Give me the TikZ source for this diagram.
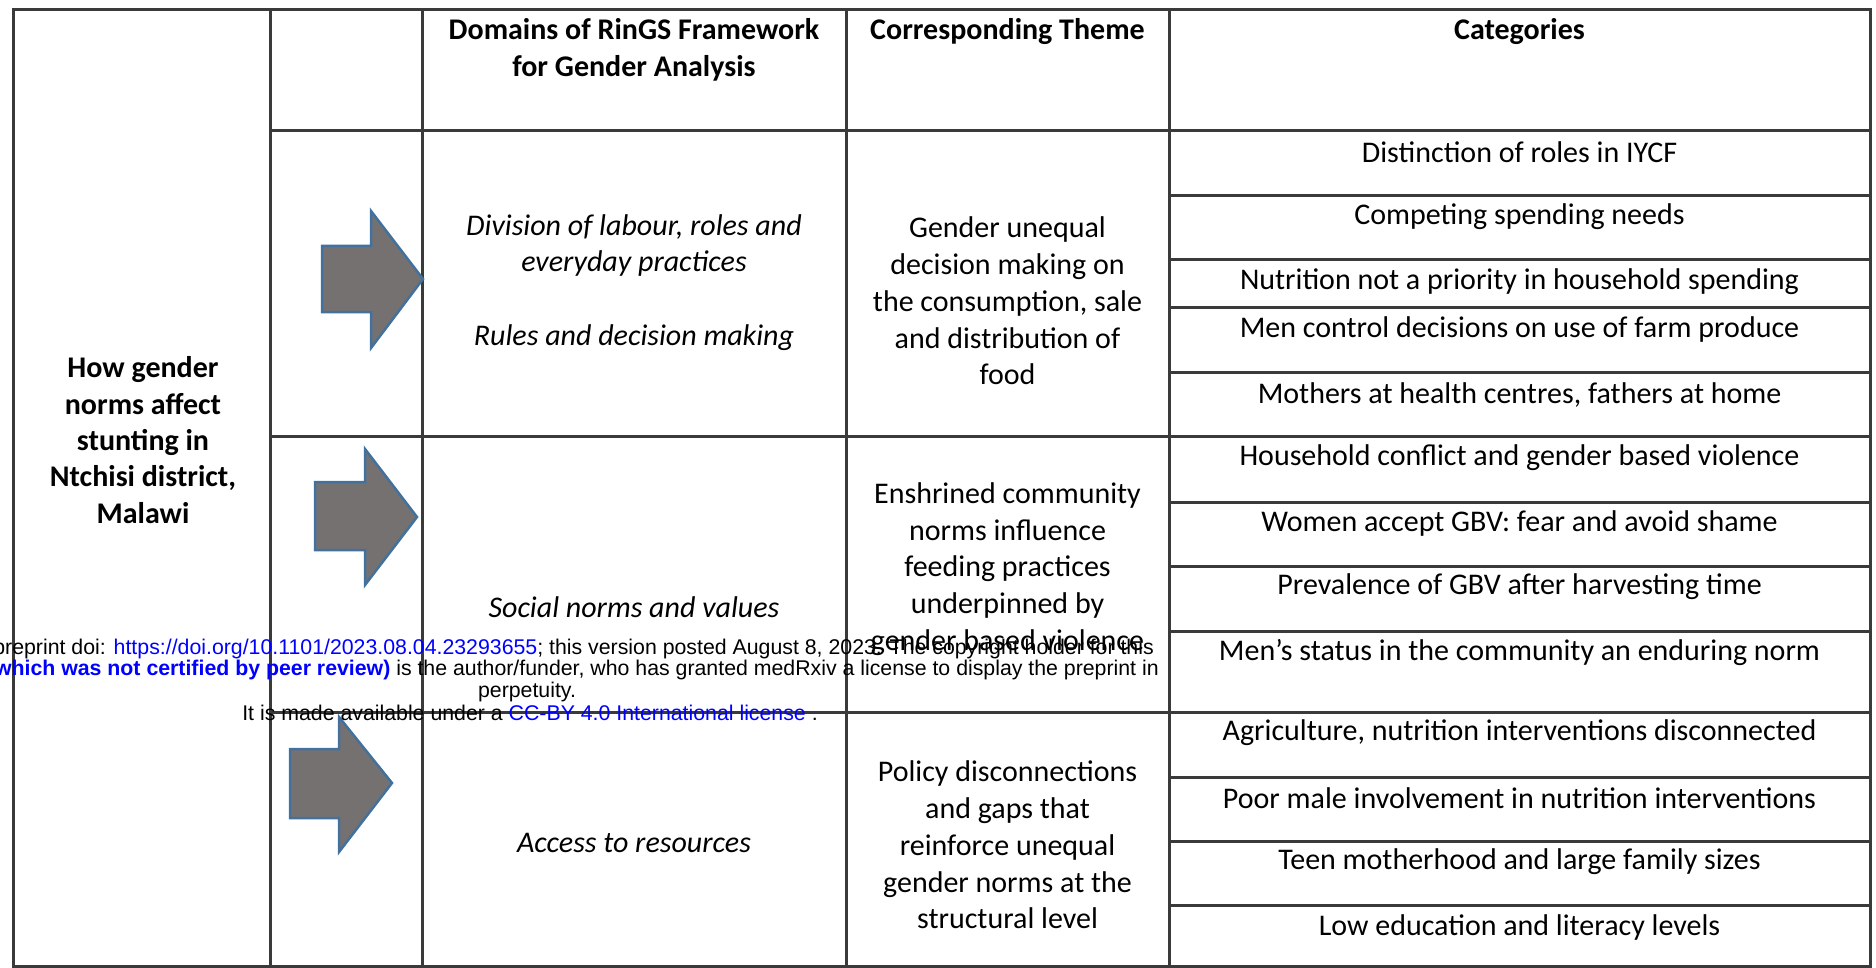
\documentclass[tikz,border=0pt]{standalone}
\usepackage{fontspec}
\setmainfont{Carlito}
\newfontfamily\stampfont{Liberation Sans}
\usepackage{tikz}
\usetikzlibrary{arrows.meta}

\definecolor{gridgray}{HTML}{3A3A3A}
\definecolor{arrowgray}{HTML}{767171}
\definecolor{arrowblue}{HTML}{41719C}
\definecolor{linkblue}{HTML}{0000FF}

\tikzset{
  gridline/.style={draw=gridgray, line width=3pt},
  celltext/.style={align=center, inner sep=0pt, font={\fontsize{30}{36.7}\selectfont}},
  headtext/.style={celltext, font={\fontsize{30}{36.7}\selectfont\bfseries}},
  domaintext/.style={celltext, font={\fontsize{30}{36.7}\selectfont\itshape}},
  goaltext/.style={celltext, font={\fontsize{30}{36.3}\selectfont\bfseries}},
  blockarrow/.style={fill=arrowgray, draw=arrowblue, line width=2.5pt, line join=miter},
  stamp/.style={inner sep=0pt, font={\stampfont\fontsize{21.3}{21.5}\selectfont}}
}

\begin{document}
\begin{tikzpicture}[x=1pt,y=-1pt]
      \clip (0,0) rectangle (1876,968);
      \fill[white] (0,0) rectangle (1876,968);
      % frame and columns
      \draw[gridline] (13,9.5) rectangle (1870,966);
      \draw[gridline] (270,9.5) -- (270,966);
      \draw[gridline] (422,9.5) -- (422,966);
      \draw[gridline] (846,9.5) -- (846,966);
      \draw[gridline] (1169,9.5) -- (1169,966);
      % rows
      \draw[gridline] (270,131) -- (1870,131);
      \draw[gridline] (270,436) -- (1870,436);
      \draw[gridline] (270,712) -- (1870,712);
      % category rows
      \draw[gridline] (1169,195.5) -- (1870,195.5);
      \draw[gridline] (1169,259.5) -- (1870,259.5);
      \draw[gridline] (1169,307.5) -- (1870,307.5);
      \draw[gridline] (1169,372) -- (1870,372);
      \draw[gridline] (1169,502) -- (1870,502);
      \draw[gridline] (1169,566) -- (1870,566);
      \draw[gridline] (1169,631) -- (1870,631);
      \draw[gridline] (1169,777) -- (1870,777);
      \draw[gridline] (1169,841) -- (1870,841);
      \draw[gridline] (1169,905) -- (1870,905);

      % arrows
      \filldraw[blockarrow] (322,246) -- (371,246) -- (371,211) -- (423,279) -- (371,348) -- (371,312) -- (322,312) -- cycle;
      \filldraw[blockarrow] (315,482) -- (365,482) -- (365,449) -- (417,517) -- (365,585) -- (365,550) -- (315,550) -- cycle;
      \filldraw[blockarrow] (290,749) -- (339,749) -- (339,717) -- (392,783) -- (339,852) -- (339,818) -- (290,818) -- cycle;

      \node[goaltext] (goal) at (143,440) {How gender\\norms affect\\stunting in\\Ntchisi district,\\Malawi};

      \node[headtext] (hdomain) at (634,50) {Domains of RinGS Framework\\for Gender Analysis};
      \node[headtext] (htheme) at (1007.5,31.7) {Corresponding Theme};
      \node[headtext] (hcat) at (1519.5,31.7) {Categories};

      \node[domaintext] (dom1) at (634,282.5) {Division of labour, roles and\\everyday practices\\[36.7pt]Rules and decision making};
      \node[domaintext] (dom2) at (634,607) {Social norms and values};
      \node[domaintext] (dom3) at (634,843) {Access to resources};

      \node[celltext] (theme1) at (1007.5,301) {Gender unequal\\decision making on\\the consumption, sale\\and distribution of\\food};
      \node[celltext] (theme2) at (1007.5,569) {Enshrined community\\norms influence\\feeding practices\\underpinned by\\gender based violence};
      \node[celltext] (theme3) at (1007.5,845) {Policy disconnections\\and gaps that\\reinforce unequal\\gender norms at the\\structural level};

      \node[celltext] (cat1) at (1519.5,152) {Distinction of roles in IYCF};
      \node[celltext] (cat2) at (1519.5,217) {Competing spending needs};
      \node[celltext] (cat3) at (1519.5,282) {Nutrition not a priority in household spending};
      \node[celltext] (cat4) at (1519.5,330) {Men control decisions on use of farm produce};
      \node[celltext] (cat5) at (1519.5,395) {Mothers at health centres, fathers at home};
      \node[celltext] (cat6) at (1519.5,458) {Household conflict and gender based violence};
      \node[celltext] (cat7) at (1519.5,523) {Women accept GBV: fear and avoid shame};
      \node[celltext] (cat8) at (1519.5,587) {Prevalence of GBV after harvesting time};
      \node[celltext] (cat9) at (1519.5,652) {Men’s status in the community an enduring norm};
      \node[celltext] (cat10) at (1519.5,733) {Agriculture, nutrition interventions disconnected};
      \node[celltext] (cat11) at (1519.5,798) {Poor male involvement in nutrition interventions};
      \node[celltext] (cat12) at (1519.5,862) {Teen motherhood and large family sizes};
      \node[celltext] (cat13) at (1519.5,927) {Low education and literacy levels};

      % preprint stamp on top
      \node[stamp, anchor=east] (doi) at (1154,649) {preprint doi: \textcolor{linkblue}{https://doi.org/10.1101/2023.08.04.23293655}; this version posted August 8, 2023. The copyright holder for this};
      \node[stamp, anchor=east] (review) at (1159,670) {\textcolor{linkblue}{\bfseries(which was not certified by peer review)} is the author/funder, who has granted medRxiv a license to display the preprint in};
      \node[stamp] (perp) at (527,692) {perpetuity.};
      \node[stamp] (licence) at (530,713) {It is made available under a \textcolor{linkblue}{CC-BY 4.0 International license} .};
    \end{tikzpicture}
\end{document}
